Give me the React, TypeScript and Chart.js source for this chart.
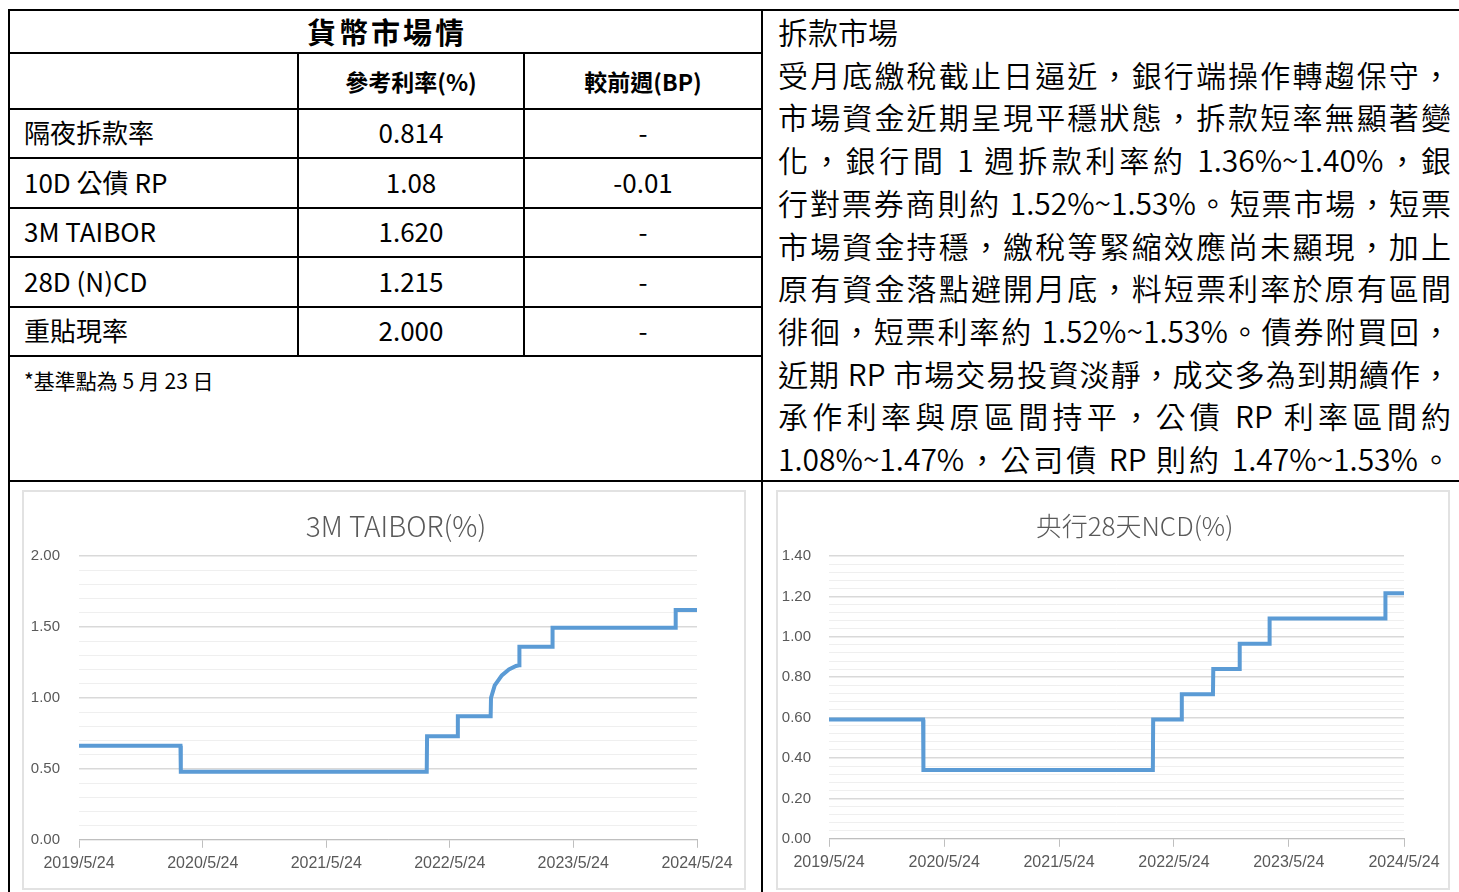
import React, { useEffect, useRef } from "react";
import { Chart, registerables } from "chart.js";

Chart.register(...registerables);

// ---------- data ----------
const tableTitle = "貨幣市場情";
const tableHeaders = ["", "參考利率(%)", "較前週(BP)"];
const rowNames = ["隔夜拆款率", "10D 公債 RP", "3M TAIBOR", "28D (N)CD", "重貼現率"];
const rowRates = ["0.814", "1.08", "1.620", "1.215", "2.000"];
const rowChanges = ["-", "-0.01", "-", "-", "-"];
const noteText = "*基準點為 5 月 23 日";

const commentTitle = "拆款市場";
const commentLines = [
  "受月底繳稅截止日逼近，銀行端操作轉趨保守，",
  "市場資金近期呈現平穩狀態，拆款短率無顯著變",
  "化，銀行間 1 週拆款利率約 1.36%~1.40%，銀",
  "行對票券商則約 1.52%~1.53%。短票市場，短票",
  "市場資金持穩，繳稅等緊縮效應尚未顯現，加上",
  "原有資金落點避開月底，料短票利率於原有區間",
  "徘徊，短票利率約 1.52%~1.53%。債券附買回，",
  "近期 RP 市場交易投資淡靜，成交多為到期續作，",
  "承作利率與原區間持平，公債 RP 利率區間約",
  "1.08%~1.47%，公司債 RP 則約 1.47%~1.53%。",
];

const xTickLabels = ["2019/5/24", "2020/5/24", "2021/5/24", "2022/5/24", "2023/5/24", "2024/5/24"];

const taiborTitle = "3M TAIBOR(%)";
const taiborDates = [
  "2019/5/24", "2020/3/19", "2020/3/20", "2022/3/17", "2022/3/18", "2022/6/16", "2022/6/17",
  "2022/9/22", "2022/9/23", "2022/10/4", "2022/10/25", "2022/11/15", "2022/12/6", "2022/12/15",
  "2022/12/16", "2023/3/23", "2023/3/24", "2024/3/21", "2024/3/22", "2024/5/24",
];
const taiborValues = [
  0.663, 0.663, 0.48, 0.48, 0.73, 0.73, 0.87,
  0.87, 1.0, 1.088, 1.159, 1.2, 1.225, 1.23,
  1.36, 1.36, 1.495, 1.495, 1.62, 1.62,
];
const taiborYTicks = ["0.00", "0.50", "1.00", "1.50", "2.00"];

const ncdTitle = "央行28天NCD(%)";
const ncdDates = [
  "2019/5/24", "2020/3/18", "2020/3/19", "2022/3/18", "2022/3/19", "2022/6/17", "2022/6/18",
  "2022/9/25", "2022/9/26", "2022/12/18", "2022/12/19", "2023/3/23", "2023/3/24",
  "2024/3/25", "2024/3/26", "2024/5/24",
];
const ncdValues = [
  0.59, 0.59, 0.34, 0.34, 0.59, 0.59, 0.715,
  0.715, 0.84, 0.84, 0.965, 0.965, 1.09,
  1.09, 1.215, 1.215,
];
const ncdYTicks = ["0.00", "0.20", "0.40", "0.60", "0.80", "1.00", "1.20", "1.40"];

// ---------- helpers ----------
const BASE = Date.UTC(2019, 4, 24);
function dayNum(s: string): number {
  const [y, m, d] = s.split("/").map(Number);
  return Math.round((Date.UTC(y, m - 1, d) - BASE) / 86400000);
}

const CJK = '"Noto Sans CJK TC", "Noto Sans", sans-serif';
const LABEL_FONT = '"Liberation Sans", Arial, sans-serif';
const GRAY = "#595959";

type ChartProps = {
  title: string;
  titleSize: number;
  titleShift: number;
  dates: string[];
  values: number[];
  yTicks: string[];
  minorStep: number;
  left: number;
  top: number;
  width: number;
  height: number;
  yWidth: number;
  padRight: number;
  padTop: number;
  padBottom: number;
  labelPad: number;
};

function LineChart(p: ChartProps) {
  const ref = useRef<HTMLCanvasElement | null>(null);
  useEffect(() => {
    if (!ref.current) return;
    const majorVals = p.yTicks.map(Number);
    const yMax = majorVals[majorVals.length - 1];
    const isMajor = (v: number) => majorVals.some((m) => Math.abs(m - v) < 1e-6);
    const xTickDays = xTickLabels.map(dayNum);
    const titlePlugin = {
      id: "offsetTitle",
      afterDraw(chart: any) {
        const ctx = chart.ctx;
        const a = chart.chartArea;
        ctx.save();
        ctx.fillStyle = GRAY;
        ctx.font = `300 ${p.titleSize}px ${CJK}`;
        ctx.textAlign = "center";
        ctx.textBaseline = "middle";
        ctx.fillText(p.title, (a.left + a.right) / 2 + p.titleShift, 34);
        ctx.restore();
      },
    };
    const chart = new Chart(ref.current, {
      type: "line",
      data: {
        datasets: [
          {
            data: p.dates.map((d, i) => ({ x: dayNum(d), y: p.values[i] })),
            borderColor: "#5B9BD5",
            borderWidth: 4,
            pointRadius: 0,
            fill: false,
            tension: 0,
            borderJoinStyle: "miter",
          },
        ],
      },
      plugins: [titlePlugin],
      options: {
        animation: false,
        responsive: false,
        maintainAspectRatio: false,
        layout: { padding: { left: 0, right: p.padRight, top: p.padTop, bottom: p.padBottom } },
        plugins: {
          legend: { display: false },
          tooltip: { enabled: false },
          title: { display: false },
        },
        scales: {
          x: {
            type: "linear",
            min: xTickDays[0],
            max: xTickDays[xTickDays.length - 1],
            afterBuildTicks: (s: any) => {
              s.ticks = xTickDays.map((v) => ({ value: v }));
            },
            ticks: {
              autoSkip: false,
              maxRotation: 0,
              padding: 6,
              color: GRAY,
              font: { family: LABEL_FONT, size: 16 },
              callback: (_v: any, i: number) => xTickLabels[i],
            },
            grid: { drawOnChartArea: false, drawTicks: true, tickLength: 8, color: "#bfbfbf", lineWidth: 1 },
            border: { display: true, color: "#bfbfbf", width: 1 },
          },
          y: {
            min: 0,
            max: yMax,
            afterFit: (s: any) => {
              s.width = p.yWidth;
            },
            ticks: {
              stepSize: p.minorStep,
              autoSkip: false,
              padding: p.labelPad,
              color: GRAY,
              font: { family: LABEL_FONT, size: 15 },
              callback: (v: any) => {
                const n = Number(v);
                const idx = majorVals.findIndex((m) => Math.abs(m - n) < 1e-6);
                return idx >= 0 ? p.yTicks[idx] : "";
              },
            },
            grid: {
              drawTicks: false,
              color: (c: any) => (isMajor(c.tick.value) ? "#d9d9d9" : "#efefef"),
              lineWidth: (c: any) => (isMajor(c.tick.value) ? 1.6 : 1),
            },
            border: { display: false },
          },
        },
      },
    } as any);
    return () => chart.destroy();
  }, []);
  return (
    <canvas
      ref={ref}
      width={p.width}
      height={p.height}
      style={{ position: "absolute", left: p.left, top: p.top, width: p.width, height: p.height }}
    />
  );
}

function HLine({ x1, x2, y }: { x1: number; x2: number; y: number }) {
  return <div style={{ position: "absolute", left: x1, top: y, width: x2 - x1, height: 2, background: "#000" }} />;
}
function VLine({ x, y1, y2 }: { x: number; y1: number; y2: number }) {
  return <div style={{ position: "absolute", left: x, top: y1, width: 2, height: y2 - y1, background: "#000" }} />;
}

function Cell({
  x1, x2, y1, y2, text, align, size, bold, padLeft, spacing,
}: {
  x1: number; x2: number; y1: number; y2: number; text: string; align: "center" | "left";
  size: number; bold?: boolean; padLeft?: number; spacing?: number;
}) {
  return (
    <div
      style={{
        position: "absolute",
        left: x1,
        top: y1,
        width: x2 - x1,
        height: y2 - y1,
        display: "flex",
        alignItems: "center",
        justifyContent: align === "center" ? "center" : "flex-start",
        paddingLeft: padLeft || 0,
        boxSizing: "border-box",
        fontSize: size,
        fontWeight: bold ? 700 : 400,
        letterSpacing: spacing || 0,
        whiteSpace: "pre",
        color: "#000",
      }}
    >
      {text}
    </div>
  );
}

export default function App() {
  const rowTops = [108, 157, 207, 256, 306, 355];
  const colX = [10, 298, 524, 762];
  return (
    <div
      style={{
        position: "absolute",
        left: 0,
        top: 0,
        width: 1459,
        height: 892,
        overflow: "hidden",
        background: "#fff",
        fontFamily: CJK,
      }}
    >
      {/* grid lines */}
      <HLine x1={8} x2={1459} y={9} />
      <VLine x={8} y1={9} y2={892} />
      <VLine x={761} y1={9} y2={892} />
      <HLine x1={8} x2={762} y={52} />
      {rowTops.map((y, i) => (
        <HLine key={"h" + i} x1={8} x2={762} y={y} />
      ))}
      <VLine x={297} y1={52} y2={356} />
      <VLine x={523} y1={52} y2={356} />
      <HLine x1={8} x2={1459} y={480} />

      {/* table texts */}
      <Cell x1={12} x2={762} y1={10} y2={52} text={tableTitle} align="center" size={29} bold spacing={3} />
      {tableHeaders.map((h, i) =>
        h ? (
          <Cell key={"th" + i} x1={colX[i]} x2={colX[i + 1]} y1={54} y2={108} text={h} align="center" size={23} bold />
        ) : null
      )}
      {rowNames.map((n, i) => (
        <React.Fragment key={"r" + i}>
          <Cell x1={10} x2={297} y1={rowTops[i] - 1} y2={rowTops[i + 1] - 1} text={n} align="left" size={26} padLeft={14} />
          <Cell x1={299} x2={523} y1={rowTops[i] - 1} y2={rowTops[i + 1] - 1} text={rowRates[i]} align="center" size={26} />
          <Cell x1={525} x2={761} y1={rowTops[i] - 1} y2={rowTops[i + 1] - 1} text={rowChanges[i]} align="center" size={26} />
        </React.Fragment>
      ))}
      <Cell x1={10} x2={761} y1={364} y2={396} text={noteText} align="left" size={21} padLeft={14} />

      {/* commentary */}
      <div style={{ position: "absolute", left: 778, top: 10, width: 673, fontSize: 30, lineHeight: "42.7px", color: "#000", fontWeight: 350 }}>
        <div>{commentTitle}</div>
        {commentLines.map((l, i) => (
          <div key={"c" + i} style={{ textAlign: "justify", textAlignLast: "justify" as any }}>
            {l}
          </div>
        ))}
      </div>

      {/* chart frames */}
      <div style={{ position: "absolute", left: 22, top: 490, width: 720, height: 396, border: "2px solid #e2e2e2", boxSizing: "content-box" }} />
      <div style={{ position: "absolute", left: 776, top: 490, width: 670, height: 396, border: "2px solid #e2e2e2", boxSizing: "content-box" }} />

      <LineChart
        title={taiborTitle}
        titleSize={28}
        titleShift={8}
        dates={taiborDates}
        values={taiborValues}
        yTicks={taiborYTicks}
        minorStep={0.1}
        left={24}
        top={492}
        width={718}
        height={394}
        yWidth={55}
        padRight={45}
        padTop={64}
        padBottom={7}
        labelPad={19}
      />
      <LineChart
        title={ncdTitle}
        titleSize={26}
        titleShift={18}
        dates={ncdDates}
        values={ncdValues}
        yTicks={ncdYTicks}
        minorStep={0.04}
        left={778}
        top={492}
        width={668}
        height={394}
        yWidth={51}
        padRight={42}
        padTop={64}
        padBottom={8}
        labelPad={18}
      />
    </div>
  );
}
